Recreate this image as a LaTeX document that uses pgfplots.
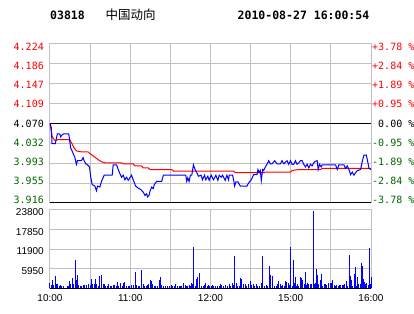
\documentclass[border=0pt]{standalone}
\usepackage{fontspec}
\usepackage{pgfplots}
\pgfplotsset{compat=1.18}
\setmainfont{Liberation Sans}
\newfontfamily\monofont{DejaVu Sans Mono}
\newfontfamily\cjk{Noto Sans CJK SC}
\definecolor{gridgray}{RGB}{192,192,192}
\definecolor{dgreen}{RGB}{0,102,0}
\definecolor{pred}{RGB}{255,0,0}
\definecolor{pblue}{RGB}{0,0,255}
\newcommand\lab[2]{\raisebox{#1}[\height][\depth]{#2}}
\begin{document}
\begin{tikzpicture}
\useasboundingbox (0,0) rectangle (414bp,314bp);
\node[anchor=base west, inner sep=0pt, font={\fontsize{11.5bp}{13bp}\selectfont\monofont\bfseries}] at (50bp,294bp) {03818};
\node[anchor=base west, inner sep=0pt, font={\fontsize{12.5bp}{14bp}\selectfont\cjk}] at (105.5bp,294bp) {中国动向};
\node[anchor=base west, inner sep=0pt, font={\fontsize{11.5bp}{13bp}\selectfont\monofont\bfseries}] at (237.5bp,294bp) {2010-08-27 16:00:54};

% price panel
\begin{axis}[
  at={(50bp,111bp)}, anchor=south west, scale only axis,
  width=321bp, height=159bp,
  xmin=0, xmax=240, ymin=3.9162, ymax=4.2238,
  xtick={0,30,...,240}, xticklabels={},
  ytick={3.9162,3.9546,3.9931,4.0315,4.0700,4.1085,4.1469,4.1854,4.2238},
  yticklabels={
    \lab{2.7bp}{\textcolor{dgreen}{3.916}},
    \lab{2.0bp}{\textcolor{dgreen}{3.955}},
    \lab{1.35bp}{\textcolor{dgreen}{3.993}},
    \lab{0.7bp}{\textcolor{dgreen}{4.032}},
    \lab{0bp}{\textcolor{black}{4.070}},
    \lab{-0.7bp}{\textcolor{pred}{4.109}},
    \lab{-1.35bp}{\textcolor{pred}{4.147}},
    \lab{-2.0bp}{\textcolor{pred}{4.186}},
    \lab{-2.7bp}{\textcolor{pred}{4.224}}},
  grid=major, grid style={gridgray, line width=1bp},
  axis line style={gridgray, line width=1bp},
  major tick length=0pt,
  yticklabel style={font={\fontsize{10bp}{12bp}\selectfont\monofont}, inner xsep=0pt, xshift=-6bp},
  clip=false,
]
\addplot[black, line width=1bp] coordinates {(0,3.9162) (240,3.9162)};
\addplot[black, line width=1bp] coordinates {(0,4.070) (240,4.070)};
\addplot[pred, line width=1bp] coordinates {
(0,4.070) (1.5,4.046) (3,4.039) (4,4.037) (6,4.039) (14.75,4.039) (16,4.033) (18,4.023)
(19.75,4.017) (23.5,4.015) (28.5,4.015) (29.75,4.012) (33.5,4.005) (36,4.000) (38.5,3.996)
(41,3.994) (53.5,3.994) (54.75,3.992) (62.25,3.992) (63.5,3.988) (68.5,3.988) (69.75,3.984)
(73.5,3.984) (74.75,3.981) (91,3.981) (92.25,3.978) (137.25,3.978) (138.5,3.975) (159.75,3.975)
(161,3.976) (179.75,3.976) (181,3.979) (186,3.981) (202.25,3.981) (203.5,3.983) (240,3.983)};
\addplot[pblue, line width=1bp] coordinates {
(0,4.070) (1,4.062) (1.5,4.031) (4,4.031) (4.75,4.041) (5.5,4.050) (7.25,4.050) (8,4.044)
(9,4.048) (10.25,4.050) (14,4.050) (14.25,4.046) (14.75,4.036) (15.5,4.022) (16.5,4.017)
(17.25,4.012) (18.5,4.005) (19.75,3.991) (20.5,3.998) (23.5,3.998) (24.75,4.004) (25.5,3.998)
(26.75,3.992) (28,3.990) (29.5,3.986) (30.5,3.966) (31.5,3.952) (33.5,3.949) (34.75,3.940)
(35.5,3.949) (37.25,3.947) (38.5,3.958) (40.5,3.970) (46.5,3.970) (47.25,3.990) (49.75,3.990)
(51,3.981) (52.25,3.973) (53.5,3.966) (54.75,3.970) (56,3.961) (57.25,3.966) (58.5,3.960)
(59.75,3.965) (61,3.970) (61.5,3.966) (62.25,3.961) (64,3.949) (66,3.945) (68,3.942)
(69.75,3.937) (71,3.931) (72.25,3.934) (73,3.928) (74,3.931) (74.75,3.939) (76,3.947)
(77.25,3.944) (78,3.952) (79.75,3.958) (83.5,3.958) (84.75,3.970) (101.5,3.970) (102.25,3.958)
(103,3.965) (104,3.958) (105,3.970) (106,3.970) (107.25,3.990) (108,3.984) (108.5,3.981)
(109.75,3.975) (111,3.968) (113,3.970) (114,3.961) (115.5,3.970) (116.5,3.961) (118,3.968)
(119,3.960) (120.5,3.970) (122.25,3.961) (124,3.970) (125.5,3.960) (126.5,3.970) (128,3.966)
(129,3.970) (131,3.960) (132.25,3.970) (133.5,3.961) (134,3.970) (136.5,3.970) (137.25,3.961)
(138,3.949) (139,3.957) (140.5,3.957) (142.25,3.949) (147.25,3.949) (148.5,3.955) (150.5,3.961)
(152.25,3.971) (154.75,3.971) (155.5,3.981) (156.5,3.975) (157.25,3.979) (158,3.960) (159,3.981)
(159.75,3.979) (161,3.986) (162.25,3.991) (163.5,3.998) (164.75,3.992) (166,3.992) (168,3.998)
(169.75,3.992) (172.25,3.992) (173.5,3.998) (174.75,3.992) (177.25,3.998) (178.5,3.991)
(179.75,3.998) (181,3.991) (182.25,3.991) (183.5,3.998) (184.75,3.991) (186,3.994) (187.25,3.998)
(188.5,3.998) (189.75,3.991) (191,3.986) (192.25,3.991) (193.5,3.984) (194.75,3.991) (196,3.988)
(197.25,3.994) (198.5,3.997) (199.75,3.998) (200.5,3.981) (201.5,3.991) (202.75,3.986)
(203.5,3.990) (213.5,3.990) (214.75,3.981) (216,3.990) (219.75,3.990) (221,3.983) (222.25,3.988)
(223.5,3.981) (224.75,3.971) (226,3.976) (227.25,3.970) (228.5,3.975) (229.75,3.979)
(232.25,3.981) (233.5,3.997) (234.75,4.009) (236.5,4.009) (237.5,3.997) (238.5,3.983) (240,3.981)};
\end{axis}

% right percentage labels
\begin{axis}[
  at={(50bp,111bp)}, anchor=south west, scale only axis,
  width=321bp, height=159bp,
  xmin=0, xmax=240, ymin=3.9162, ymax=4.2238,
  axis x line=none, axis y line=right, y axis line style={draw=none},
  major tick length=0pt,
  ytick={3.9162,3.9546,3.9931,4.0315,4.0700,4.1085,4.1469,4.1854,4.2238},
  yticklabels={
    \lab{2.7bp}{\textcolor{dgreen}{-3.78 \%}},
    \lab{2.0bp}{\textcolor{dgreen}{-2.84 \%}},
    \lab{1.35bp}{\textcolor{dgreen}{-1.89 \%}},
    \lab{0.7bp}{\textcolor{dgreen}{-0.95 \%}},
    \lab{0bp}{\textcolor{black}{\phantom{+}0.00 \%}},
    \lab{-0.7bp}{\textcolor{pred}{+0.95 \%}},
    \lab{-1.35bp}{\textcolor{pred}{+1.89 \%}},
    \lab{-2.0bp}{\textcolor{pred}{+2.84 \%}},
    \lab{-2.7bp}{\textcolor{pred}{+3.78 \%}}},
  yticklabel style={font={\fontsize{10bp}{12bp}\selectfont\monofont}, anchor=west, inner xsep=0pt, xshift=1bp},
]
\end{axis}

% volume panel
\begin{axis}[
  at={(50bp,25.7bp)}, anchor=south west, scale only axis,
  width=321bp, height=78.5bp,
  xmin=0, xmax=240, ymin=0, ymax=23800,
  xtick={0,60,...,240}, minor xtick={30,90,150,210},
  xticklabels={10:00,11:00,12:00,15:00,16:00},
  ytick={5950,11900,17850,23800},
  yticklabels={5950,11900,17850,23800},
  scaled y ticks=false,
  grid=both, grid style={gridgray, line width=1bp}, minor grid style={gridgray, line width=1bp},
  axis line style={gridgray, line width=1bp},
  major tick length=0pt, minor tick length=0pt,
  yticklabel style={font={\fontsize{10bp}{12bp}\selectfont}, inner xsep=0pt, xshift=-6bp, yshift=-2.5bp},
  xticklabel style={font={\fontsize{10bp}{12bp}\selectfont}, anchor=base, inner sep=0pt, yshift=-13.7bp},
  clip=false,
]
\addplot[black, line width=1bp] coordinates {(0,0) (240,0)};
\addplot[ycomb, pblue, line width=1bp] coordinates {
(0,1616) (0.75,1010) (1.75,2424) (2.5,1010) (4,3737) (4.75,1414) (5.5,1414) (7,808) (7.75,1010)
(8.5,606) (10,707) (13,606) (14,606) (14.5,2222) (15.5,1414) (16.5,3030) (17.25,1212) (19,8585)
(19.75,2525) (20.5,4040) (21.5,1010) (22.5,808) (23.5,808) (25,1010) (26,1010) (27.25,1010)
(28.5,1212) (30,1010) (31,2828) (32,1313) (33,1313) (34,2828) (35,1212) (36,606) (37,3636)
(38.5,4040) (39.75,1414) (40.5,1212) (41.5,606) (43,707) (44,1212) (45,606) (46,808) (47.25,1010)
(48,1010) (49.5,606) (50.5,1818) (51.5,606) (52.75,1515) (54,808) (55,1616) (56,1818) (57,606)
(58.5,707) (59.5,707) (61,1010) (62.25,1010) (64,4949) (65,1010) (66,606) (67,606) (68.5,5555)
(70,1414) (71,808) (72.25,606) (73,1010) (74,1212) (75,2525) (76,2222) (77,1212) (78,808) (79,606)
(80.5,606) (82,2525) (82.75,3535) (83.5,1010) (85,606) (86.5,707) (88,606) (89.25,606) (90.5,1010)
(91.5,808) (93,606) (94,1212) (95,808) (96.5,606) (97.5,808) (98.5,808) (100,1616) (101,1010)
(102,606) (103,606) (104,1010) (105,606) (106,1515) (106.75,1212) (107.5,12524) (108.5,606)
(109.25,2828) (110.5,3535) (112,4646) (113,606) (114.5,606) (115.5,1010) (116.5,1515) (117.5,606)
(118.5,1010) (119.5,808) (120.5,606) (121.5,1010)
(122.5,808) (124,808) (125,606) (126.5,606) (127.5,1212) (128.5,1010) (130,808) (131,1010)
(132.5,606) (134,1212) (135,606) (136.5,1515) (137.5,1010) (138.25,9797) (139.5,1515) (140.5,606)
(141.5,606) (142.75,3030) (143.5,2828) (145,1212) (146,1212) (147.25,606) (148.5,1212) (150,2222)
(151,1010) (152,1212) (153,606) (154.5,1212) (155.5,808) (157,606) (158,1212) (158.5,1616)
(159.25,9797) (160.5,606) (161.5,1010) (162.5,606) (163.75,6767) (165,4040) (166.5,3737)
(167.5,606) (169,606) (170,1414) (171,2222) (172,1414) (173,606) (174,1010) (175,606) (176,2222)
(177,1818) (178,1616) (179,1010) (180,12524) (181,606) (181.75,8585) (182.5,1616) (183.25,3535)
(184,606) (185,1212) (186,606) (187,3535) (188,3232) (189,2525) (190,1212) (190.75,5050)
(191.5,1010) (192.5,1616) (193.5,1212) (194.5,1212) (195.5,1212) (196.75,23432) (198,1414)
(198.75,1616) (199.5,5858) (200.25,4040) (201,1212) (202,2525) (202.75,4444) (203.5,606)
(205,1212) (206,1212) (207,1010) (208.5,1616) (209.5,1616) (210.5,1616) (211.5,2525) (212.5,1010)
(213.5,606) (214.5,1010) (215.5,606) (216.5,1010) (217.5,1010) (218.5,1010) (219.5,1010)
(220.5,1414) (221.5,2222) (222.5,606) (223.75,10100) (224.75,3636) (225.5,2525) (226.5,606)
(227.5,4444) (228.25,6464) (229,606) (230,3535) (231,1414) (232,1414) (232.75,7676) (233.5,6767)
(234.25,2828) (235,1818) (236,1414) (237,1616) (238,1010) (238.75,12221) (239.5,1414) (240,3535)};
\end{axis}
\end{tikzpicture}
\end{document}
